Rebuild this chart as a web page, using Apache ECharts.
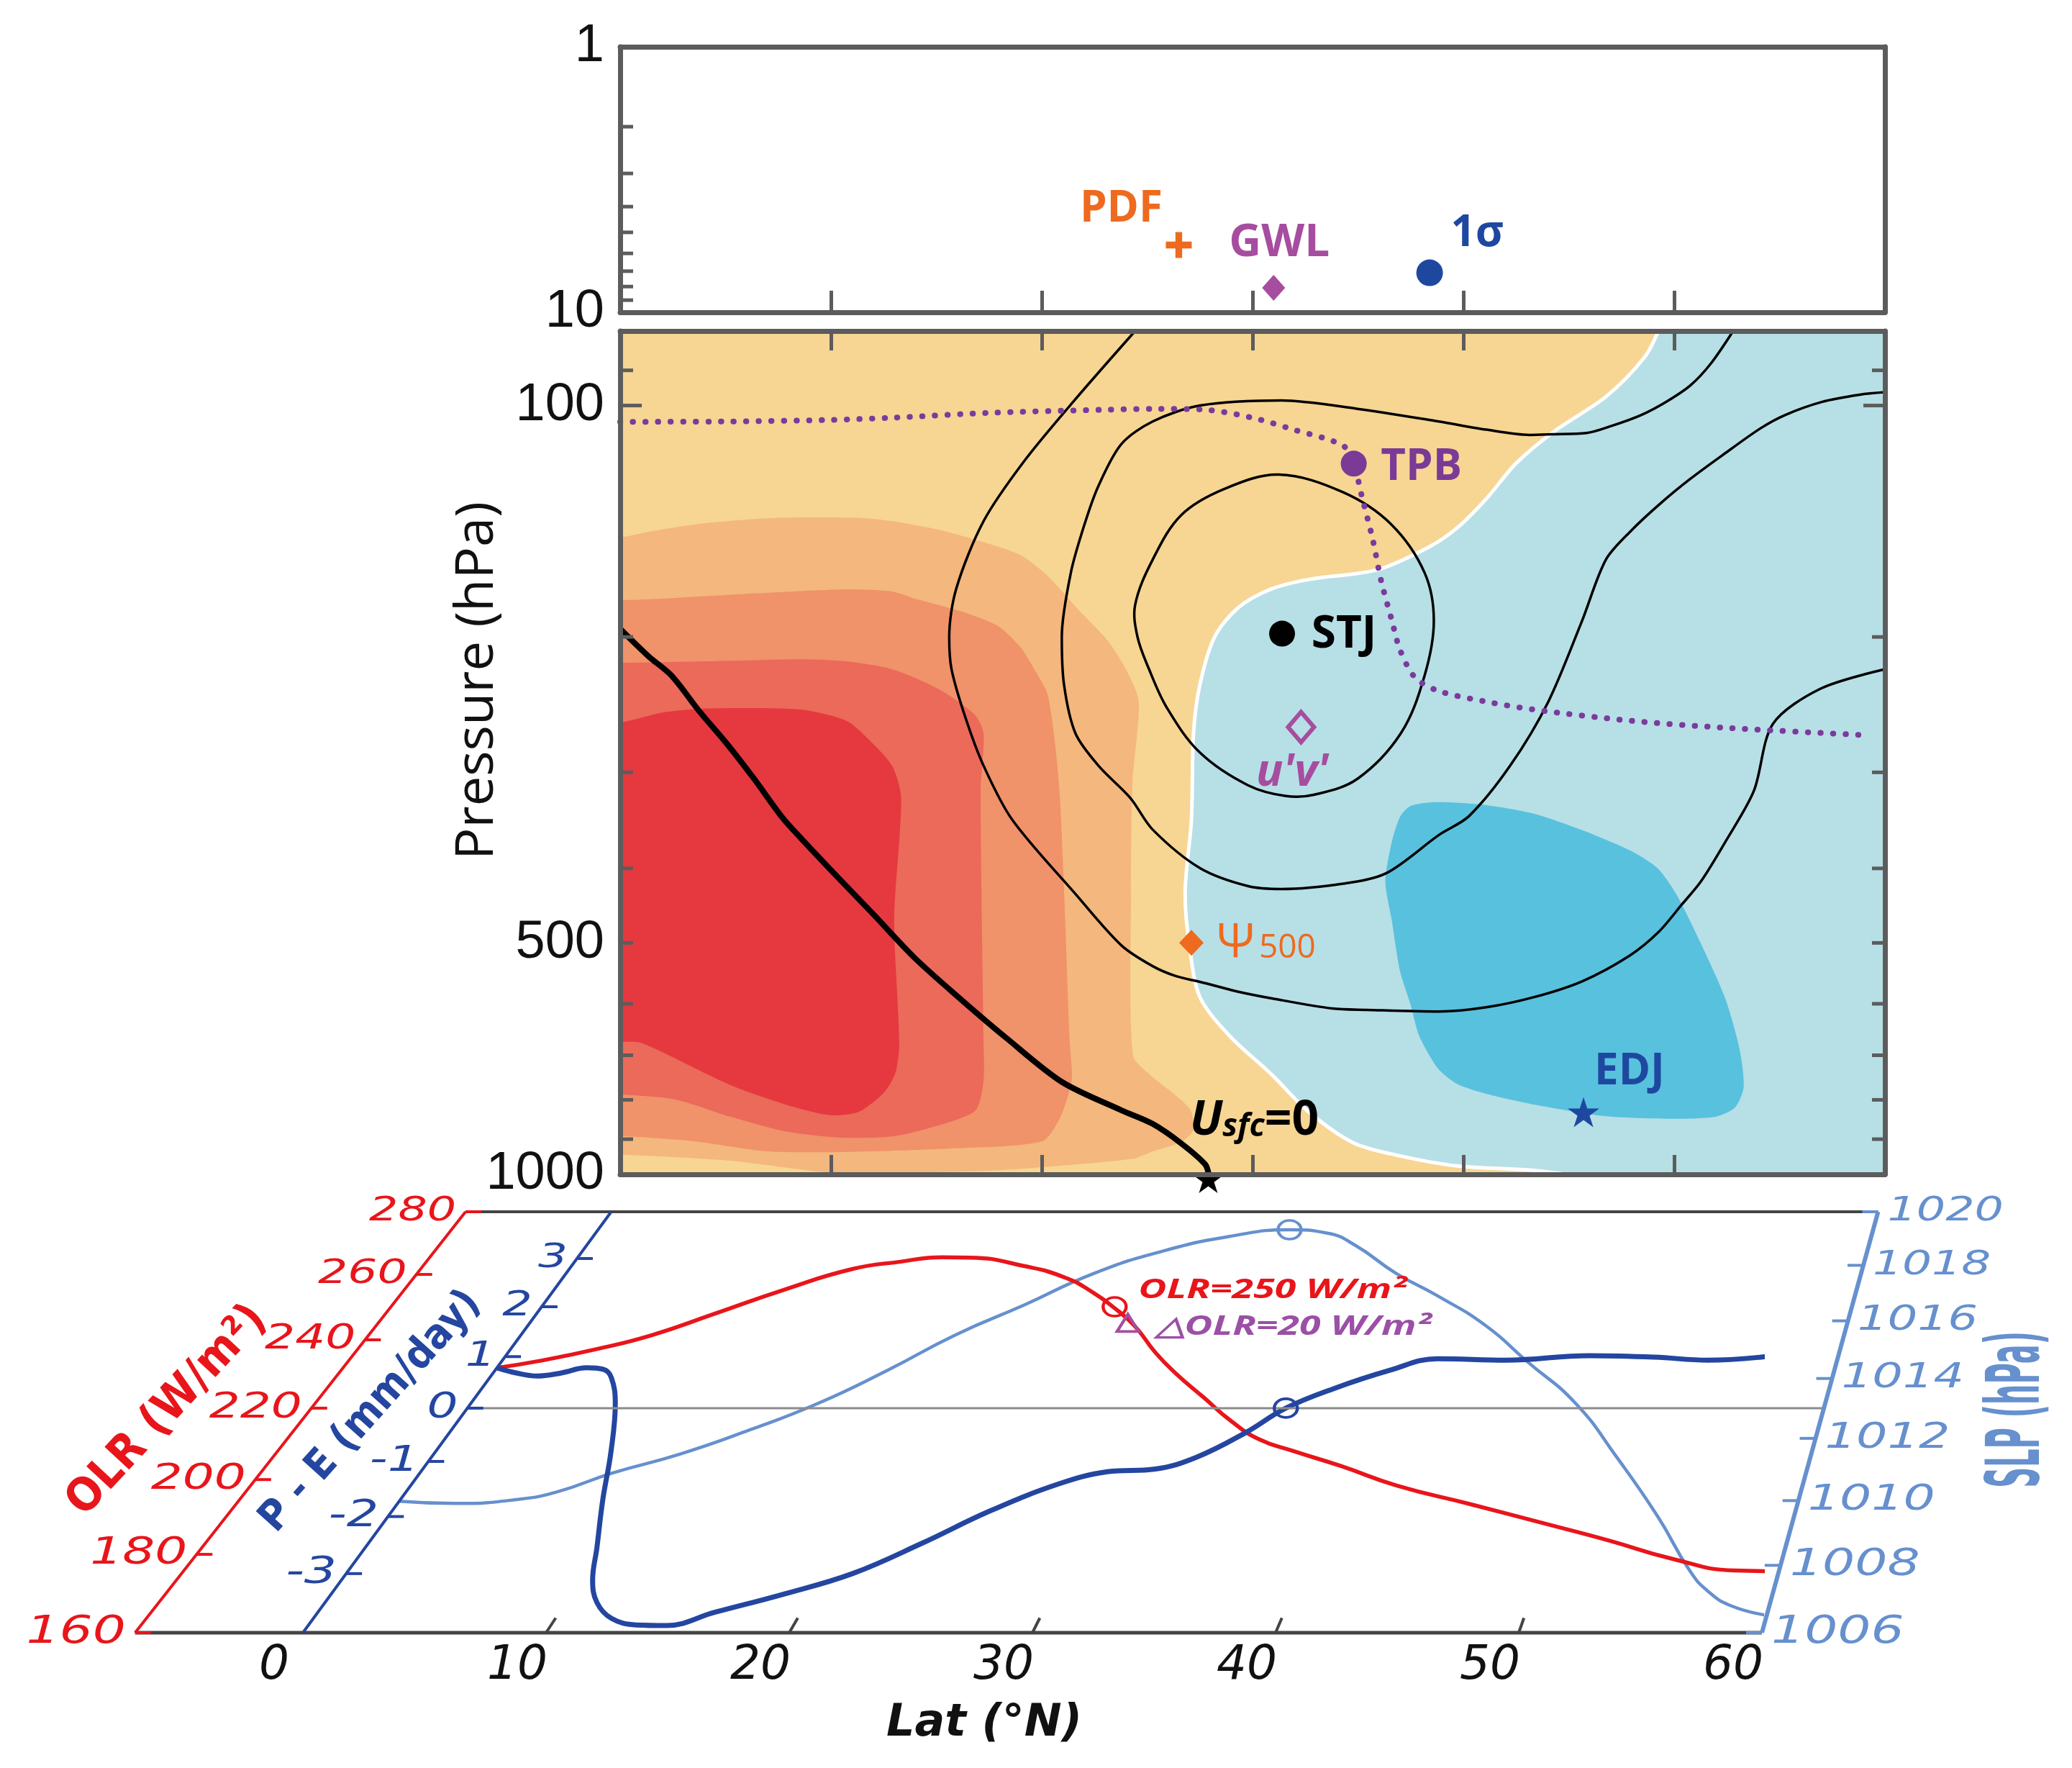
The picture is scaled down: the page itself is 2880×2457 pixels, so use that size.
<!DOCTYPE html>
<html>
<head>
<meta charset="utf-8">
<script src="https://cdn.jsdelivr.net/npm/echarts@6.0.0/dist/echarts.min.js"></script>
<style>
html,body{margin:0;padding:0;background:#ffffff;}
#chart{width:2880px;height:2457px;}
</style>
</head>
<body>
<div id="chart"></div>
<script>
// ======================= DATA =======================
const latTicks = [0, 10, 20, 30, 40, 50, 60];
const topMinorTicks = [2, 3, 4, 5, 6, 7, 8, 9];
const topLabels = [1, 10];
const midMinorTicks = [90, 200, 300, 400, 500, 600, 700, 800, 900];
const midMajorTicks = [100];
const midLabels = [100, 500, 1000];
const olrTicks = [160, 180, 200, 220, 240, 260, 280];
const peTicks = [-3, -2, -1, 0, 1, 2, 3];
const slpTicks = [1006, 1008, 1010, 1012, 1014, 1016, 1018, 1020];

// top panel metrics [lat, hPa]
const pdfPoint = [26.5, 5.58];
const gwlPoint = [31.0, 8.09];
const sigmaPoint = [38.4, 7.1];

// middle panel metrics [lat, hPa]
const tpbPoint = [34.8, 119];
const stjPoint = [31.4, 198];
const uvPoint = [32.3, 262];
const psiPoint = [27.1, 500];
const edjPoint = [45.7, 830];
const usfcPoint = [27.9, 1000];

// shading boundaries [lat, hPa]
const warmBlueBoundary = [[49.25,80],[48.6,86.5],[46.8,97.2],[44.3,108.1],[42.5,118.9],[41.1,132.1],[39.7,144.3],[38.4,152.6],[35.9,163.6],[32.7,168.3],[30.9,173.2],[29.3,183.4],[28.2,200],[27.5,230.8],[27.2,266.8],[27.1,345.7],[26.8,432.3],[27.0,502.9],[27.5,588],[28.9,660],[30.9,741.4],[32.7,830.9],[34.8,910.4],[37.0,946.2],[39.7,975],[43.3,988],[44.9,1000]];
const edjCore = [[37.5,331.7],[38.8,328.1],[41.1,331],[43.4,339.8],[45.6,356.4],[47.9,379],[49.2,399.5],[50.1,432],[51.3,503],[52.4,588],[53.1,686.5],[53.3,769.8],[52.9,818],[52.0,841],[50.1,846.7],[47.9,844],[46.3,837.5],[43.4,812],[41.1,786],[39.7,762.6],[38.8,728.5],[37.9,660],[37.5,602],[37.0,544.7],[36.6,466.5],[36.3,416],[36.6,370],[37.0,342.6]];
const warmLevel1 = [[-3,148.4],[0,148.4],[1.57,145.6],[4.19,142.1],[7.44,140],[11.37,140],[12.9,141.4],[15.07,145],[17.24,150.6],[18.98,156.5],[20.29,166.7],[21.81,185.2],[23.12,202.1],[23.99,220.3],[24.6,242.7],[24.3,310],[24.23,440],[24.33,700.4],[25.26,747.3],[26.38,790.5],[27.06,825.2],[27.2,874.9],[26.62,907.5],[25.26,933.3],[24.37,953.7],[20.89,974.5],[17.41,989.3],[12.18,995.7],[9.58,992.6],[5.22,959.9],[0,943],[-3,943]];
const warmLevel2 = [[-3,179.1],[0,179.1],[2.01,178.3],[6.35,175.6],[10.72,173.4],[12.9,174.5],[13.99,178.3],[16.16,185.2],[17.9,193.4],[18.98,206.1],[19.64,220.3],[20.29,238.1],[20.84,317.2],[21.33,675.2],[21.42,753.9],[20.89,841.4],[20.02,905.6],[15.67,925.3],[10.44,935.4],[6.96,933.3],[3.48,905.6],[0,891.8],[-3,891.8]];
const warmLevel3 = [[-3,216.1],[0,216.1],[4.19,215.1],[8.53,213.8],[10.72,215.1],[12.9,220.3],[15.07,233.5],[16.81,252.2],[17.24,267],[17.1,317.2],[17.24,675.2],[17.24,753.9],[16.89,823.5],[15.67,854.2],[13.06,891.8],[10.44,895.7],[7.84,879.3],[5.22,841.4],[2.61,799],[0,787.7],[-3,787.7]];
const warmLevel4 = [[-3,258.3],[0,258.3],[2.01,250.8],[4.19,247.8],[8.53,248.6],[10.72,257],[11.81,272.2],[12.9,294.1],[13.33,323.9],[13.0,466.4],[13.24,675.2],[13.06,737.7],[12.53,782],[11.32,828.9],[10.0,837.8],[7.84,811.2],[5.22,765.2],[1.04,675.2],[0,672.4],[-3,672.4]];

// zonal wind contours [lat, hPa]
const jetOuter = [[24.43,80],[21.6,98.1],[19.2,117.8],[17.24,141.4],[15.94,173.2],[15.61,200.1],[15.72,220.3],[16.38,254.6],[17.24,294.1],[18.6,345.8],[21.6,431.9],[23.77,503.5],[25.26,536],[26.38,552.5],[27.54,562.1],[29.25,578.1],[30.96,590.7],[33.79,608.6],[35.43,611],[38.84,614.1],[41.09,606.3],[43.36,588.1],[45.63,561],[47.88,519.6],[49.25,484.3],[50.38,445.2],[51.28,415.6],[52.42,369.8],[53.78,317.2],[54.68,259.6],[56.95,233.5],[60,220.3]];
const jetMiddle = [[52.8,80],[51.74,88.2],[50.78,94.1],[49.62,98.9],[48.43,102.9],[47.03,106.3],[45.84,108.6],[44.2,109.0],[43.14,109.2],[41.09,107.5],[38.84,104.9],[34.98,101.0],[31.37,98.5],[27.51,100],[25.26,104.9],[23.77,112.3],[22.69,127.2],[22.03,142.7],[21.38,165.0],[20.95,200.1],[21.06,231.1],[21.6,267.0],[22.69,294.1],[24.2,323.9],[25.26,356.1],[27.51,399.7],[29.8,421.9],[31.37,425.5],[34.3,418.7],[36.35,405.7],[38.84,361.9],[40.27,342],[42.22,294.1],[44.03,242.8],[45.63,190.6],[46.76,158.7],[47.97,145.4],[49.39,133.8],[50.78,124.5],[52.32,115.9],[54.09,107.1],[55.26,102.9],[57.03,98.9],[58.81,96.8],[60,96.1]];
const jetInner = [[31.25,123.0],[34.3,129.7],[36.57,142.7],[38.16,165.0],[38.6,190.6],[38.16,224.6],[37.03,267.0],[34.98,305.8],[32.95,320.7],[31.59,322.1],[29.78,311.8],[27.51,282.9],[25.94,247.4],[25.09,220.3],[24.54,199.9],[24.43,181.7],[25.26,158.7],[26.62,138.8],[28.65,128.4]];
const usfcZeroLine = [[0,195.2],[1.35,212],[2.44,224.6],[3.75,249.7],[5.05,275.1],[6.35,305.8],[7.67,342.8],[8.53,364.3],[10.27,409.3],[12.01,458.9],[13.98,523.3],[16.16,591.9],[18.33,665.1],[20.95,758.1],[23.77,825.2],[25.26,859.7],[26.62,911.6],[27.75,970.3],[27.92,1000]];
const tropopause = [[0,105],[5,104.9],[10,104.4],[13,103.7],[17.6,102.2],[22.8,101.3],[25.3,101],[27.6,101.2],[29.9,103.6],[32.0,107.6],[34.3,112.8],[34.8,119.1],[35.2,131.8],[35.7,149.3],[36.1,169],[36.6,190],[37.0,208],[37.7,225.7],[38.8,235],[41.0,242.5],[43.3,248.5],[47.9,257],[52.4,262.5],[59.2,268.5]];

// surface curves [lat, value]
const olrCurve = [[0,231.7],[1.59,233.6],[3.97,237.4],[5.97,241.5],[8.14,247.9],[10.58,255.2],[13.14,261.7],[15.16,264.0],[16.96,265.4],[18.26,265.3],[21.05,262.6],[23.28,258.9],[24.92,254.3],[26.24,249.7],[27.61,244.2],[29.18,236.2],[30.58,230.0],[32.33,223.1],[34.06,216.3],[35.64,211.2],[37.37,207.9],[39.75,203.7],[42.49,198.4],[46.07,193.2],[49.29,188.4],[52.47,183.6],[55.33,178.9],[58.14,175.8],[60,175.6]];
const peCurve = [[0,0.78],[1.03,0.68],[2.06,0.62],[3.06,0.68],[4.02,0.78],[4.81,0.75],[5.43,0.59],[6.4,0.09],[7.65,-0.82],[8.69,-1.7],[9.79,-2.55],[10.5,-3.11],[11.28,-3.49],[12.31,-3.76],[13.5,-3.87],[14.78,-3.88],[16.42,-3.66],[18.84,-3.35],[21.21,-3.0],[23.39,-2.48],[25.56,-1.9],[27.91,-1.41],[29.73,-1.19],[31.75,-1.14],[33.3,-0.92],[34.91,-0.47],[36.2,0],[37.96,0.38],[40.07,0.73],[42.01,0.96],[45.13,0.93],[48.78,1.02],[51.75,0.99],[54.19,0.93],[56.54,0.99],[58.51,1.11],[60,1.15]];
const slpCurve = [[0,1009.98],[2.44,1009.91],[4.97,1010.03],[6.51,1010.28],[8.31,1010.87],[10.74,1011.49],[13.08,1012.27],[15.38,1013.16],[17.56,1014.27],[19.71,1015.51],[22.07,1016.57],[24.44,1017.7],[27.08,1018.52],[29.94,1019.08],[32.54,1019.32],[34.4,1019.19],[35.96,1018.74],[38.47,1017.7],[40.82,1016.89],[43.58,1015.83],[46.09,1014.58],[48.94,1013.16],[51.57,1011.39],[54.2,1009.49],[56.24,1007.85],[57.28,1007.22],[58.45,1006.78],[60,1006.51]];
const olr250Point = [26.24, 250];
const dOlrPoint = [27.23, 245.1];
const slpMaxPoint = [32.54, 1019.32];
const peZeroPoint = [36.2, 0];

// ======================= STYLE =======================
const FRAME = '#5c5c5c';
const EDGE = '#444444';
const C = { pale:'#F7D593', tan:'#F4B77D', salmon1:'#F0926A', salmon2:'#EB6A5A', red:'#E5393F', lightBlue:'#B7DFE6', blue:'#58C1DE' };
const COL = { olr:'#E8151B', pe:'#2446A0', slp:'#6690CE', orange:'#EE6A1E', mag:'#A64D9F', purple:'#7A3A96', dblue:'#1E48A0' };
const LABEL_FONT = 'Open Sans';

// slanted (perspective) bottom panel geometry
const PERSP = 1.1436, SHEAR0 = 12.68, SHEAR1 = 0.1317;
const OLR_AX = {lo:160, hi:280, lat:-6.9};
const PE_AX = {lo:-4, hi:4, lat:0};
const SLP_AX = {lo:1006, hi:1020, lat:60};
function depth(v, ax) { const t = (v - ax.lo) / (ax.hi - ax.lo); return PERSP * t / (1 + (PERSP - 1) * t); }
function projG(lat, g) { return [lat + g * (SHEAR0 - SHEAR1 * lat), g]; }
function proj(lat, v, ax) { return projG(lat, depth(v, ax)); }

const STAR = 'path://M50,0L61.2,34.5L97.6,34.5L68.2,55.9L79.4,90.5L50,69.1L20.6,90.5L31.8,55.9L2.4,34.5L38.8,34.5Z';
const PLUS = 'path://M3.7,0H6.3V3.7H10V6.3H6.3V10H3.7V6.3H0V3.7H3.7Z';

// ======================= HELPERS =======================
function yTickSeries(xIdx, yIdx, values, len, sides) {
  return {
    type:'custom', xAxisIndex:xIdx, yAxisIndex:yIdx, z:6, silent:true, clip:false,
    data: values.map(v => [0, v]),
    renderItem(params, api) {
      const cs = params.coordSys;
      const y = api.coord([0, api.value(1)])[1];
      const kids = [];
      if (sides.indexOf('L') >= 0) kids.push({type:'line', shape:{x1:cs.x, y1:y, x2:cs.x + len, y2:y}, style:{stroke:FRAME, lineWidth:5}});
      if (sides.indexOf('R') >= 0) kids.push({type:'line', shape:{x1:cs.x + cs.width, y1:y, x2:cs.x + cs.width - len, y2:y}, style:{stroke:FRAME, lineWidth:5}});
      return {type:'group', children:kids};
    }
  };
}
function yLabelSeries(xIdx, yIdx, values) {
  return {
    type:'custom', xAxisIndex:xIdx, yAxisIndex:yIdx, z:6, silent:true, clip:false,
    data: values.map(v => [0, v]),
    renderItem(params, api) {
      const cs = params.coordSys;
      const v = api.value(1);
      const y = api.coord([0, v])[1];
      return {type:'text', x: cs.x - 22, y: y, style:{text:String(v), fontSize:74, fontFamily:'Liberation Sans', fill:'#111', align:'right', verticalAlign:'middle'}};
    }
  };
}
function lineSeries(data, xIdx, yIdx, color, width, z, extra) {
  return Object.assign({type:'line', xAxisIndex:xIdx, yAxisIndex:yIdx, data:data, smooth:0.3, symbol:'none', silent:true, clip:false, z:z,
    lineStyle:{color:color, width:width}}, extra || {});
}
function markSeries(xIdx, yIdx, point, symbol, size, itemStyle, label, z) {
  return {type:'scatter', xAxisIndex:xIdx, yAxisIndex:yIdx, data:[point], symbol:symbol, symbolSize:size, silent:true, z:z || 7,
    itemStyle:Object.assign({opacity:1}, itemStyle),
    label: label ? Object.assign({show:true, position:'inside', opacity:1}, label) : {show:false}};
}

// ======================= SERIES =======================
const regions = [
  {pts: [[-3,70],[49.8,70]].concat(warmBlueBoundary, [[45.3,1100],[-3,1100]]), color: C.pale},
  {pts: edjCore, color: C.blue},
  {pts: warmLevel1, color: C.tan},
  {pts: warmLevel2, color: C.salmon1},
  {pts: warmLevel3, color: C.salmon2},
  {pts: warmLevel4, color: C.red}
];

const series = [];
// middle: filled shading
series.push({
  type:'custom', xAxisIndex:2, yAxisIndex:2, z:1, silent:true, clip:true,
  data: regions.map(r => r.pts[1]),
  renderItem(params, api) {
    const reg = regions[params.dataIndex];
    return {type:'polygon', shape:{points: reg.pts.map(d => api.coord(d)), smooth:0.25}, style:{fill: reg.color}};
  }
});
series.push(lineSeries(warmBlueBoundary, 2, 2, '#ffffff', 5, 2));
series.push(lineSeries(jetOuter, 2, 2, '#000', 3.5, 3));
series.push(lineSeries(jetMiddle, 2, 2, '#000', 3.5, 3));
series.push({
  type:'custom', xAxisIndex:2, yAxisIndex:2, z:3, silent:true, clip:true, data:[jetInner[0]],
  renderItem(params, api) {
    return {type:'polygon', shape:{points: jetInner.map(d => api.coord(d)), smooth:0.35}, style:{fill:'none', stroke:'#000', lineWidth:3.5}};
  }
});
series.push(lineSeries(usfcZeroLine, 2, 2, '#000', 8, 4));
series.push(lineSeries(tropopause, 2, 2, COL.purple, 8, 4, {lineStyle:{color:'#7A3B9C', width:8, type:[0.5, 17], cap:'round'}}));

// middle markers
const boldLbl = (text, color, size, off, extra) => Object.assign({formatter:text, color:color, fontSize:size, fontWeight:'bold', fontFamily:LABEL_FONT, offset:off}, extra || {});
series.push(markSeries(2, 2, tpbPoint, 'circle', 36, {color:COL.purple}, boldLbl('TPB', COL.purple, 60, [94, 6])));
series.push(markSeries(2, 2, stjPoint, 'circle', 36, {color:'#000'}, boldLbl('STJ', '#000', 62, [86, 2])));
series.push(markSeries(2, 2, uvPoint, 'diamond', [36, 42], {color:'rgba(0,0,0,0)', borderColor:COL.mag, borderWidth:6},
  {formatter:"u'v'", color:COL.mag, fontSize:62, fontStyle:'italic', fontWeight:'bold', fontFamily:LABEL_FONT, offset:[-12, 64]}));
series.push(markSeries(2, 2, psiPoint, 'diamond', [34, 36], {color:COL.orange},
  {formatter:'{a|Ψ}{b|500}', offset:[104, 8], rich:{a:{fontSize:66, color:COL.orange, fontFamily:LABEL_FONT, padding:[0,6,14,0]}, b:{fontSize:46, color:COL.orange, fontFamily:LABEL_FONT}}}));
series.push(markSeries(2, 2, edjPoint, STAR, [44, 42], {color:COL.dblue}, boldLbl('EDJ', COL.dblue, 60, [64, -56])));
series.push(markSeries(2, 2, usfcPoint, STAR, [42, 40], {color:'#000'},
  {formatter:'{u|U}{s|sfc}{e|=0}', offset:[64, -72], rich:{
    u:{fontSize:66, fontWeight:'bold', fontStyle:'italic', color:'#000', fontFamily:LABEL_FONT, padding:[0,0,16,0]},
    s:{fontSize:44, fontWeight:'bold', fontStyle:'italic', color:'#000', fontFamily:LABEL_FONT},
    e:{fontSize:66, fontWeight:'bold', color:'#000', fontFamily:LABEL_FONT, padding:[0,0,16,0]}}}, 8));
series[series.length - 1].symbolOffset = [0, 6];

// top markers
series.push(markSeries(0, 0, pdfPoint, PLUS, 36, {color:COL.orange}, boldLbl('PDF', COL.orange, 60, [-80, -50])));
series.push(markSeries(0, 0, gwlPoint, 'diamond', [32, 36], {color:COL.mag}, boldLbl('GWL', COL.mag, 62, [8, -62])));
series.push(markSeries(0, 0, sigmaPoint, 'circle', 37, {color:COL.dblue}, boldLbl('1σ', COL.dblue, 60, [66, -54])));

// ticks and labels for log axes
series.push(yTickSeries(0, 0, topMinorTicks, 18, 'L'));
series.push(yLabelSeries(0, 0, topLabels));
series.push(yTickSeries(2, 2, midMinorTicks, 18, 'LR'));
series.push(yTickSeries(2, 2, midMajorTicks, 30, 'LR'));
series.push(yLabelSeries(2, 2, midLabels));

// bottom panel: frame, slanted axes, ticks, labels
series.push({
  type:'custom', xAxisIndex:4, yAxisIndex:4, z:5, silent:true, clip:false, data:[[0, 0]],
  renderItem(params, api) {
    const kids = [];
    const pt = (lat, g) => api.coord(projG(lat, g));
    const line = (a, b, color, w) => kids.push({type:'line', shape:{x1:a[0], y1:a[1], x2:b[0], y2:b[1]}, style:{stroke:color, lineWidth:w}});
    line(pt(OLR_AX.lat, 0), pt(SLP_AX.lat, 0), EDGE, 5);
    line(pt(OLR_AX.lat, 1), pt(SLP_AX.lat, 1), EDGE, 4);
    line(api.coord(proj(PE_AX.lat, 0, PE_AX)), api.coord(proj(SLP_AX.lat, 0, PE_AX)), '#8c8c8c', 3);
    latTicks.slice(1, -1).forEach(l => line(pt(l, 0), pt(l, 0.035), EDGE, 4));
    [[OLR_AX, COL.olr, 4], [PE_AX, COL.pe, 4], [SLP_AX, COL.slp, 6]].forEach(a => line(pt(a[0].lat, 0), pt(a[0].lat, 1), a[1], a[2]));
    const axisTicks = (ax, ticks, color, dir) => {
      ticks.forEach(v => {
        const q = proj(ax.lat, v, ax);
        const p = api.coord(q);
        const sc = 1 - 0.1256 * q[1];
        line([p[0], p[1]], [p[0] + dir * 22, p[1]], color, 4);
        kids.push({type:'text', x: p[0] - dir * 13, y: p[1], scaleX: 1.45 * sc, scaleY: 1.05 * sc,
          style:{text:String(v), fontSize:50, fontStyle:'italic', fontFamily:'DejaVu Sans', fill:color, align: dir > 0 ? 'right' : 'left', verticalAlign:'middle'}});
      });
    };
    axisTicks(OLR_AX, olrTicks, COL.olr, 1);
    axisTicks(PE_AX, peTicks, COL.pe, 1);
    axisTicks(SLP_AX, slpTicks, COL.slp, -1);
    const mid = ax => api.coord(proj(ax.lat, (ax.lo + ax.hi) / 2, ax));
    const m1 = mid(OLR_AX), m2 = mid(PE_AX), m3 = mid(SLP_AX);
    kids.push({type:'text', x: m1[0] - 200, y: m1[1] + 4, rotation: 0.82, scaleY: 1.1,
      style:{text:'OLR (W/m²)', fontSize:58, fontWeight:'bold', fontFamily:'DejaVu Sans', fill:COL.olr, align:'center', verticalAlign:'middle'}});
    kids.push({type:'text', x: m2[0] - 134, y: m2[1] + 5, rotation: 0.84, scaleY: 1.1,
      style:{text:'P - E (mm/day)', fontSize:52, fontWeight:'bold', fontFamily:'DejaVu Sans', fill:COL.pe, align:'center', verticalAlign:'middle'}});
    kids.push({type:'text', x: m3[0] + 272, y: m3[1] + 2, rotation: Math.PI / 2, scaleX: 0.5, scaleY: 1.3,
      style:{text:'SLP (hPa)', fontSize:80, fontWeight:'bold', fontFamily:'DejaVu Sans', fill:COL.slp, align:'center', verticalAlign:'middle'}});
    // annotations
    const a1 = api.coord(proj(olr250Point[0], olr250Point[1], OLR_AX));
    const a2 = api.coord(proj(dOlrPoint[0], dOlrPoint[1], OLR_AX));
    kids.push({type:'text', x: a1[0] + 33, y: a1[1] - 23, scaleX: 1.45,
      style:{text:'OLR=250 W/m²', fontSize:37, fontWeight:'bold', fontStyle:'italic', fontFamily:LABEL_FONT, fill:COL.olr, align:'left', verticalAlign:'middle'}});
    kids.push({type:'text', x: a2[0] + 38, y: a2[1] + 6, scaleX: 1.45,
      style:{text:'△OLR=20 W/m²', fontSize:37, fontWeight:'bold', fontStyle:'italic', fontFamily:LABEL_FONT, fill:'#9B4FA6', align:'left', verticalAlign:'middle'}});
    return {type:'group', children:kids};
  }
});
series.push(lineSeries(slpCurve.map(d => proj(d[0], d[1], SLP_AX)), 4, 4, COL.slp, 4.5, 3, {smooth:0.5}));
series.push(lineSeries(olrCurve.map(d => proj(d[0], d[1], OLR_AX)), 4, 4, COL.olr, 5.5, 3, {smooth:0.5}));
series.push(lineSeries(peCurve.map(d => proj(d[0], d[1], PE_AX)), 4, 4, COL.pe, 7, 3, {smooth:0.4}));
const ring = c => ({color:'rgba(0,0,0,0)', borderColor:c, borderWidth:4});
series.push(markSeries(4, 4, proj(olr250Point[0], olr250Point[1], OLR_AX), 'circle', [32, 26], ring(COL.olr), null));
series.push(markSeries(4, 4, proj(dOlrPoint[0], dOlrPoint[1], OLR_AX), 'triangle', [30, 24], ring(COL.mag), null));
series.push(markSeries(4, 4, proj(slpMaxPoint[0], slpMaxPoint[1], SLP_AX), 'circle', [32, 26], ring(COL.slp), null));
series.push(markSeries(4, 4, proj(peZeroPoint[0], peZeroPoint[1], PE_AX), 'circle', [32, 26], ring(COL.pe), null));

// ======================= AXES =======================
const frameLine = {show:true, onZero:false, lineStyle:{color:FRAME, width:7}};
const latBase = {type:'value', min:0, max:60, interval:10, splitLine:{show:false}, axisLabel:{show:false}, z:10};
const tickIn = len => ({show:true, inside:true, length:len, lineStyle:{color:FRAME, width:5}});
const logBase = (g, min, max, pos) => ({type:'log', logBase:10, gridIndex:g, min:min, max:max, inverse:true, position:pos,
  axisLine:frameLine, axisTick:{show:false}, axisLabel:{show:false}, splitLine:{show:false}, z:10});

const option = {
  animation:false,
  backgroundColor:'#ffffff',
  grid:[
    {left:862, right:260, top:65, height:369},
    {left:862, right:260, top:460, height:1172, show:true, backgroundColor:C.lightBlue, borderWidth:0},
    {left:421, right:431, top:1684, height:585}
  ],
  xAxis:[
    Object.assign({}, latBase, {gridIndex:0, position:'bottom', axisLine:frameLine, axisTick:tickIn(30)}),
    Object.assign({}, latBase, {gridIndex:0, position:'top', axisLine:frameLine, axisTick:{show:false}}),
    Object.assign({}, latBase, {gridIndex:1, position:'bottom', axisLine:frameLine, axisTick:tickIn(27)}),
    Object.assign({}, latBase, {gridIndex:1, position:'top', axisLine:frameLine, axisTick:tickIn(27)}),
    {type:'value', gridIndex:2, min:0, max:60, interval:10, position:'bottom', axisLine:{show:false}, axisTick:{show:false}, splitLine:{show:false},
      axisLabel:{show:true, margin:14, formatter: v => '{a|' + v + '}', rich:{a:{fontFamily:'DejaVu Sans', fontStyle:'italic', fontSize:66, color:'#111', padding:[0,80,0,0]}}},
      name:'Lat (°N)', nameLocation:'middle', nameGap:96,
      nameTextStyle:{fontFamily:'DejaVu Sans', fontStyle:'italic', fontWeight:'bold', fontSize:62, color:'#111', padding:[0,134,0,0]}}
  ],
  yAxis:[
    logBase(0, 1, 10, 'left'),
    logBase(0, 1, 10, 'right'),
    logBase(1, 80, 1000, 'left'),
    logBase(1, 80, 1000, 'right'),
    {type:'value', gridIndex:2, min:0, max:1, show:false}
  ],
  graphic:[
    {type:'text', x:664, y:946, rotation:Math.PI / 2, z:20,
      style:{text:'Pressure (hPa)', fontSize:74, fontFamily:'Open Sans', fill:'#111', align:'center', verticalAlign:'middle'}}
  ],
  series: series
};

const chart = echarts.init(document.getElementById('chart'), null, {renderer:'canvas'});
chart.setOption(option);
</script>
</body>
</html>
